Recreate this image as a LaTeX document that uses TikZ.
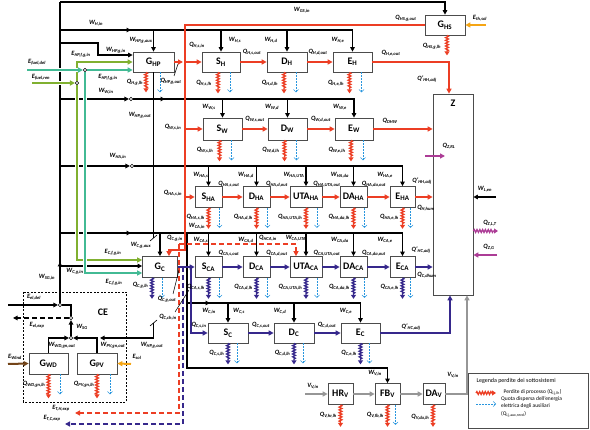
\documentclass[tikz,border=0pt]{standalone}
\usepackage{fontspec}
\setmainfont{Carlito}
\usetikzlibrary{arrows.meta,decorations.pathmorphing}
\definecolor{heatred}{RGB}{236,62,36}
\definecolor{coolblue}{RGB}{54,40,140}
\definecolor{fuelteal}{RGB}{66,186,148}
\definecolor{fuellime}{RGB}{128,176,48}
\definecolor{auxblue}{RGB}{40,150,222}
\definecolor{zonemag}{RGB}{172,60,150}
\definecolor{solorange}{RGB}{245,165,20}
\definecolor{windbrown}{RGB}{115,68,24}
\definecolor{ventgray}{RGB}{150,150,150}
\newcommand{\qs}[2]{#1\textsubscript{#2}}

\begin{document}
\begin{tikzpicture}[x=1pt, y=-1pt,
    box/.style={draw=black!70, fill=white, line width=0.7pt, minimum height=20pt, inner sep=0pt, font=\fontsize{10}{10}\selectfont\bfseries},
    lbl/.style={font=\fontsize{6.5}{6.5}\selectfont\bfseries\itshape, inner sep=0.5pt},
    jct/.style={circle, draw=black, fill=white, line width=0.6pt, inner sep=0pt, minimum size=3.5pt},
    wire/.style={line width=1.4pt},
    wtip/.style={-{Triangle[length=4.5pt,width=4.5pt]}},
    heat/.style={heatred, line width=2pt, -{Triangle[length=5pt,width=5pt]}},
    cool/.style={coolblue, line width=2pt, -{Triangle[length=5pt,width=5pt]}},
    vent/.style={ventgray, line width=2pt, -{Triangle[length=5pt,width=5pt]}},
    fuelL/.style={fuellime, line width=2pt, preaction={draw=white, line width=4.5pt, arrows=-}, -{Triangle[length=5pt,width=5pt]}},
    fuelT/.style={fuelteal, line width=2pt, preaction={draw=white, line width=4.5pt, arrows=-}, -{Triangle[length=5pt,width=5pt]}},
    lossH/.style={heatred, line width=1.3pt, decorate, decoration={snake, amplitude=1.4pt, segment length=2.8pt, post length=4pt}, -{Triangle[length=4pt,width=5pt]}},
    lossC/.style={lossH, coolblue},
    aux/.style={auxblue, line width=0.5pt, dash pattern=on 2pt off 1pt, -{Straight Barb[length=2.5pt,width=5pt]}},
    expd/.style={dash pattern=on 5pt off 3pt}
]
\useasboundingbox (0,0) rectangle (590,430);

% bus levels
\coordinate (bH) at (0,30);
\coordinate (bW) at (0,99);
\coordinate (bHA) at (0,166);
\coordinate (bCA) at (0,233);
\coordinate (bC) at (0,303);

% ---- boxes ----
\node[box, minimum width=41pt] (ghp) at (153.5,62) {\qs{G}{HP}};
\node[box, minimum width=40pt] (ghs) at (445,25) {\qs{G}{HS}};
\node[box, minimum width=38pt] (sh) at (221,62) {\qs{S}{H}};
\node[box, minimum width=40pt] (dh) at (287,62) {\qs{D}{H}};
\node[box, minimum width=39pt] (eh) at (352.5,62) {\qs{E}{H}};
\node[box, minimum width=40pt, minimum height=201pt] (z) at (453,194.5) {};
\node[font=\fontsize{10}{10}\selectfont\bfseries] (zt) at (453,103) {Z};

\node[box, minimum width=39pt, minimum height=22pt] (sw) at (222.5,129) {\qs{S}{W}};
\node[box, minimum width=39pt, minimum height=22pt] (dw) at (287.5,129) {\qs{D}{W}};
\node[box, minimum width=38pt, minimum height=22pt] (ew) at (354,129) {\qs{E}{W}};

\node[box, minimum width=27pt, minimum height=21pt] (sha) at (208.5,197) {\qs{S}{HA}};
\node[box, minimum width=27pt, minimum height=21pt] (dha) at (256.5,197) {\qs{D}{HA}};
\node[box, minimum width=32pt, minimum height=21pt] (utaha) at (306,197) {\qs{UTA}{HA}};
\node[box, minimum width=27pt, minimum height=21pt] (daha) at (353.5,197) {\qs{DA}{HA}};
\node[box, minimum width=25pt, minimum height=21pt] (eha) at (402.5,197) {\qs{E}{HA}};

\node[box, minimum width=35pt, minimum height=21pt] (gc) at (160,267) {\qs{G}{C}};
\node[box, minimum width=27pt, minimum height=21pt] (sca) at (208.5,267) {\qs{S}{CA}};
\node[box, minimum width=27pt, minimum height=21pt] (dca) at (256.5,267) {\qs{D}{CA}};
\node[box, minimum width=32pt, minimum height=21pt] (utaca) at (306,267) {\qs{UTA}{CA}};
\node[box, minimum width=27pt, minimum height=21pt] (daca) at (353.5,267) {\qs{DA}{CA}};
\node[box, minimum width=25pt, minimum height=21pt] (eca) at (402.5,267) {\qs{E}{CA}};

\node[box, minimum width=40pt] (sc) at (228,333) {\qs{S}{C}};
\node[box, minimum width=40pt] (dc) at (294,333) {\qs{D}{C}};
\node[box, minimum width=39pt] (ec) at (360.5,333) {\qs{E}{C}};

\node[box, minimum width=25pt, minimum height=21pt] (hrv) at (340.5,394) {\qs{HR}{V}};
\node[box, minimum width=25pt, minimum height=21pt] (fbv) at (387.5,394) {\qs{FB}{V}};
\node[box, minimum width=22pt, minimum height=21pt] (dav) at (434,394) {\qs{DA}{V}};

% CE
\draw[line width=0.5pt, dash pattern=on 2pt off 1.5pt] (23,292) rectangle (126,402);
\node[font=\fontsize{10}{10}\selectfont\bfseries] (ce) at (103,312) {CE};
\node[box, minimum width=39pt, minimum height=21pt] (gwd) at (48.5,363.5) {\qs{G}{WD}};
\node[box, minimum width=40pt, minimum height=21pt] (gpv) at (97,363.5) {\qs{G}{PV}};

% junctions
\node[jct] (jw) at (131,99) {};
\node[jct] (jha) at (132,166) {};
\node[jct] (jfd) at (85,70) {};
\node[jct] (jfr) at (77,83) {};
\node[jct] (jdel) at (60,305) {};
\node[jct] (jexp) at (71,318) {};
\node[jct] (jsg) at (71,338) {};

% ---- electric lines ----
\draw[wire, wtip] (60,2) -| (ghs.north);
\draw[wire] (60,2) -- (jdel);
\draw[wire, wtip] (60,290) -- (60,262);
\draw[wire, wtip] (60,30) -- (131,30);
\draw[wire, wtip] (129,30) -| (eh.north);
\draw[wire, wtip] (ghp.north |- bH) -- (ghp.north);
\draw[wire, wtip] (sh.north |- bH) -- (sh.north);
\draw[wire, wtip] (dh.north |- bH) -- (dh.north);
\draw[wire, wtip] (60,43) -| (98,55) -- (ghp.west |- 98,55);

\draw[wire, wtip] (60,99) -- (jw);
\draw[wire, wtip] (jw) -- (165,99);
\draw[wire, wtip] (163,99) -| (ew.north);
\draw[wire, wtip] (sw.north |- bW) -- (sw.north);
\draw[wire, wtip] (dw.north |- bW) -- (dw.north);

\draw[wire, wtip] (60,166) -- (jha);
\draw[wire, wtip] (jha) -| (eha.north);
\draw[wire, wtip] (sha.north |- bHA) -- (sha.north);
\draw[wire, wtip] (dha.north |- bHA) -- (dha.north);
\draw[wire, wtip] (utaha.north |- bHA) -- (utaha.north);
\draw[wire, wtip] (daha.north |- bHA) -- (daha.north);

\draw[wire, wtip] (60,233) -- (131,233);
\draw[wire, wtip] (129,233) -| (eca.north);
\draw[wire, wtip] (gc.north |- bCA) -- (gc.north);
\draw[wire, wtip] (sca.north |- bCA) -- (sca.north);
\draw[wire, wtip] (dca.north |- bCA) -- (dca.north);
\draw[wire, wtip] (utaca.north |- bCA) -- (utaca.north);
\draw[wire, wtip] (daca.north |- bCA) -- (daca.north);
\draw[wire, wtip] (60,266) -- (gc.west |- 60,266);

\draw[wire, wtip] (187,233) -- (187,368) -| (fbv.north);
\draw[wire, wtip] (187,303) -- (210,303);
\draw[wire, wtip] (208,303) -| (ec.north);
\draw[wire, wtip] (sc.north |- bC) -- (sc.north);
\draw[wire, wtip] (dc.north |- bC) -- (dc.north);

\draw[wire] (ghp.south) -- (ghp.south |- 0,238);
\draw[line width=0.6pt] (150,241) -- (157,235);
\draw[line width=0.6pt] (150,326) -- (157,320);
\draw[wire, wtip] (ghp.south |- 0,323) |- (100,338);

\draw[wire, wtip] (8,305) -- (jdel);
\draw[wire] (jdel) -| (jexp);
\draw[wire, expd, wtip] (jexp) -- (13,318);
\draw[wire, wtip] (jsg) -- (jexp);
\draw[wire, wtip] (gwd.north) |- (jsg);
\draw[wire, wtip] (gpv.north) |- (jsg);

% ---- fuel lines ----
\draw[fuelL] (32,83) -- (jfr);
\draw[fuelL] (jfr.north) |- (ghp.west |- 77,62);
\draw[fuelL] (jfr.south) |- (gc.west |- 77,260);
\draw[fuelT] (27,70) -- (jfd);
\draw[fuelT] (jfd) -- (ghp.west |- jfd);
\draw[fuelT] (jfd.south) |- (gc.west |- 85,273);

% ---- heating ----
\draw[heat] (ghs.west) -| (185,250) -| (gc.north -| 169,0);
\draw[heat] (ghp.east) -- (183,62);
\draw[heat] (185,62) -- (sh.west);
\draw[heat] (sh) -- (dh);
\draw[heat] (dh) -- (eh);
\draw[heat] (eh.east) -| (z.north -| 449,0);
\draw[heat] (185,129) -- (sw.west);
\draw[heat] (sw) -- (dw);
\draw[heat] (dw) -- (ew);
\draw[heat] (ew.east) -- (z.west |- ew.east);
\draw[heat] (185,197) -- (sha.west);
\draw[heat] (sha) -- (dha);
\draw[heat] (dha) -- (utaha);
\draw[heat] (utaha) -- (daha);
\draw[heat] (daha) -- (eha);
\draw[heat] (eha.east) -- (z.west |- eha.east);
\draw[heat, expd] (179,244) -| (utaca.north -| 296,0);
\draw[heat, expd] (179,244) |- (75,413);

% ---- cooling ----
\draw[cool] (gc) -- (sca);
\draw[cool] (191,267) |- (sc.west);
\draw[cool, expd] (183,267) |- (65,424);
\draw[cool] (sca) -- (dca);
\draw[cool] (dca) -- (utaca);
\draw[cool] (utaca) -- (daca);
\draw[cool] (daca) -- (eca);
\draw[cool] (eca.east) -- (z.west |- eca.east);
\draw[cool] (sc) -- (dc);
\draw[cool] (dc) -- (ec);
\draw[cool] (ec.east) -| (z.south -| 450,0);

% ---- ventilation ----
\draw[vent] (305,394) -- (hrv);
\draw[vent] (hrv) -- (fbv);
\draw[vent] (fbv) -- (dav);
\draw[vent] (dav.east) -| (z.south -| 467,0);

% ---- zone ----
\draw[zonemag, line width=2pt, -{Triangle[length=5pt,width=5pt]}] (425,156) -- (445,156);
\draw[lossH, zonemag] (z.east |- 0,231) -- (498,231);
\draw[zonemag, line width=2pt, -{Triangle[length=5pt,width=5pt]}] (497,255) -- (z.east |- 0,255);
\draw[wire, wtip] (496,197) -- (z.east |- 0,197);

% ---- renewables ----
\draw[solorange, line width=2pt, -{Triangle[length=5pt,width=5pt]}] (486,25) -- (ghs.east);
\draw[solorange, line width=2pt, -{Triangle[length=5pt,width=5pt]}] (131,364) -- (gpv.east);
\draw[windbrown, line width=2pt, -{Triangle[length=5pt,width=5pt]}] (8,364) -- (gwd.west);

% ---- losses ----
\draw[lossH] ([xshift=-7.5pt]ghp.south) -- ++(0,20);
\draw[aux] ([xshift=6.5pt]ghp.south) -- ++(0,20);
\draw[lossH] ([xshift=2pt]ghs.south) -- ++(0,20);
\draw[lossH] ([xshift=-3pt]sh.south) -- ++(0,21);
\draw[aux] ([xshift=9pt]sh.south) -- ++(0,20);
\draw[lossH] ([xshift=-3pt]dh.south) -- ++(0,21);
\draw[aux] ([xshift=9pt]dh.south) -- ++(0,20);
\draw[lossH] ([xshift=-3pt]eh.south) -- ++(0,21);
\draw[aux] ([xshift=9pt]eh.south) -- ++(0,20);
\draw[lossH] ([xshift=-3pt]sw.south) -- ++(0,21);
\draw[aux] ([xshift=9pt]sw.south) -- ++(0,20);
\draw[lossH] ([xshift=-3pt]dw.south) -- ++(0,21);
\draw[aux] ([xshift=9pt]dw.south) -- ++(0,20);
\draw[lossH] ([xshift=-3pt]ew.south) -- ++(0,21);
\draw[aux] ([xshift=9pt]ew.south) -- ++(0,20);
\draw[lossH] (sha.south) -- ++(0,21);
\draw[aux] ([xshift=11pt]sha.south) -- ++(0,20);
\draw[lossH] (dha.south) -- ++(0,21);
\draw[aux] ([xshift=11pt]dha.south) -- ++(0,20);
\draw[lossH] (utaha.south) -- ++(0,21);
\draw[aux] ([xshift=11pt]utaha.south) -- ++(0,20);
\draw[lossH] (daha.south) -- ++(0,21);
\draw[aux] ([xshift=11pt]daha.south) -- ++(0,20);
\draw[lossH] (eha.south) -- ++(0,21);
\draw[aux] ([xshift=8pt]eha.south) -- ++(0,20);
\draw[lossC] ([xshift=-8pt]gc.south) -- ++(0,21);
\draw[aux] ([xshift=2pt]gc.south) -- ++(0,20);
\draw[lossC] (sca.south) -- ++(0,21);
\draw[aux] ([xshift=11pt]sca.south) -- ++(0,20);
\draw[lossC] (dca.south) -- ++(0,21);
\draw[aux] ([xshift=11pt]dca.south) -- ++(0,20);
\draw[lossC] (utaca.south) -- ++(0,21);
\draw[aux] ([xshift=11pt]utaca.south) -- ++(0,20);
\draw[lossC] (daca.south) -- ++(0,21);
\draw[aux] ([xshift=11pt]daca.south) -- ++(0,20);
\draw[lossC] (eca.south) -- ++(0,21);
\draw[aux] ([xshift=8pt]eca.south) -- ++(0,20);
\draw[lossC] (sc.south) -- ++(0,21);
\draw[aux] ([xshift=9pt]sc.south) -- ++(0,20);
\draw[lossC] (dc.south) -- ++(0,21);
\draw[aux] ([xshift=9pt]dc.south) -- ++(0,20);
\draw[lossC] (ec.south) -- ++(0,21);
\draw[aux] ([xshift=9pt]ec.south) -- ++(0,20);
\draw[lossH] (hrv.south) -- ++(0,22);
\draw[lossH] (fbv.south) -- ++(0,22);
\draw[aux] ([xshift=8pt]fbv.south) -- ++(0,20);
\draw[lossH] ([xshift=-1pt]dav.south) -- ++(0,22);
\draw[lossH] (gwd.south) -- ++(0,24);
\draw[aux] ([xshift=11.5pt]gwd.south) -- ++(0,20);
\draw[lossH] (gpv.south) -- ++(0,24);
\draw[aux] ([xshift=13pt]gpv.south) -- ++(0,20);

% leader lines
\draw[line width=0.5pt] (174,76) -- (178,64);
\draw[line width=0.5pt] (173,294) -- (179,270);
\draw[line width=0.5pt] (175,312) -- (189,290);

% ---- labels ----
\node[lbl] (tWgs) at (302,10) {\qs{W}{GS,in}};
\node[lbl] (tWh) at (96,23) {\qs{W}{H,in}};
\node[lbl] (tWhpa) at (141,40) {\qs{W}{HP,g,aux}};
\node[lbl] (tWhpi) at (116,50) {\qs{W}{HP,g,in}};
\node[lbl] (tEhpl) at (81,54) {\qs{E}{HP,f,g,in}};
\node[lbl] (tEfd) at (37,62) {\qs{E}{fuel,del}};
\node[lbl] (tEfr) at (41,77) {\qs{E}{fuel,ren}};
\node[lbl] (tEhpt) at (108,77) {\qs{E}{HP,f,g,in}};
\node[lbl] (tQhg) at (135,82) {\qs{Q}{H,g,lh}};
\node[lbl] (tQhpo) at (171,81) {\qs{Q}{HP,g,out}};
\node[lbl] (tQhsi) at (197,45) {\qs{Q}{H,s,in}};
\node[lbl] (tWhs) at (235,40) {\qs{W}{H,s}};
\node[lbl] (tWhd) at (271,40) {\qs{W}{H,d}};
\node[lbl] (tWhe) at (338,40) {\qs{W}{H,e}};
\node[lbl] (tQhso) at (252,52) {\qs{Q}{H,s,out}};
\node[lbl] (tQhdo) at (318,52) {\qs{Q}{H,d,out}};
\node[lbl] (tQheo) at (391,53) {\qs{Q}{H,e,out}};
\node[lbl] (tQhsl) at (204,83) {\qs{Q}{H,s,lh}};
\node[lbl] (tQhdl) at (270,83) {\qs{Q}{H,d,lh}};
\node[lbl] (tQhel) at (336,83) {\qs{Q}{H,e,lh}};
\node[lbl] (tQhgo) at (406,18) {\qs{Q}{HS,g,out}};
\node[lbl] (tQhgl) at (432,46) {\qs{Q}{HS,g,lh}};
\node[lbl] (tEths) at (480,18) {\qs{E}{th,sol}};
\node[lbl] (tQhha) at (427,79) {Q'\textsubscript{HH,adj}};

\node[lbl] (tWw) at (106,91) {\qs{W}{W,in}};
\node[lbl] (tWhpo) at (140,115) {\qs{W}{HP,g,out}};
\node[lbl] (tQwsi) at (173,127) {\qs{Q}{W,s,in}};
\node[lbl] (tWws) at (209,107) {\qs{W}{W,s}};
\node[lbl] (tWwd) at (272,107) {\qs{W}{W,d}};
\node[lbl] (tWwe) at (340,107) {\qs{W}{W,e}};
\node[lbl] (tQwso) at (255,119) {\qs{Q}{W,s,out}};
\node[lbl] (tQwdo) at (321,119) {\qs{Q}{W,d,out}};
\node[lbl] (tQdhw) at (390,121) {\qs{Q}{DHW}};
\node[lbl] (tQwsl) at (205,150) {\qs{Q}{W,s,lh}};
\node[lbl] (tQwdl) at (271,150) {\qs{Q}{W,d,lh}};
\node[lbl] (tQwel) at (337,150) {\qs{Q}{W,e,lh}};
\node[lbl] (tQzrl) at (449,146) {\qs{Q}{Z,RL}};

\node[lbl] (tWha) at (118,156) {\qs{W}{HA,in}};
\node[lbl] (tQhasi) at (173,193) {\qs{Q}{HA,s,in}};
\node[lbl] (tWhas) at (201,175) {\qs{W}{HA,s}};
\node[lbl] (tWhad) at (246,175) {\qs{W}{HA,d}};
\node[lbl] (tWhau) at (294,175) {\qs{W}{HA,UTA}};
\node[lbl] (tWhada) at (340,175) {\qs{W}{HA,da}};
\node[lbl] (tWhae) at (385,175) {\qs{W}{HA,e}};
\node[lbl] (tQhaso) at (229,184) {\qs{Q}{HA,s,out}};
\node[lbl] (tQhado) at (277,184) {\qs{Q}{HA,d,out}};
\node[lbl] (tQhauo) at (327,184) {\qs{Q}{HA,UTA,out}};
\node[lbl] (tQhadao) at (374,184) {\qs{Q}{HA,da,out}};
\node[lbl, anchor=east] (tQhasl) at (205.5,217) {\qs{Q}{HA,s,lh}};
\node[lbl, anchor=east] (tQhadl) at (253.5,217) {\qs{Q}{HA,d,lh}};
\node[lbl, anchor=east] (tQhaul) at (303,217) {\qs{Q}{HA,UTA,lh}};
\node[lbl, anchor=east] (tQhadal) at (350.5,217) {\qs{Q}{HA,da,lh}};
\node[lbl, anchor=east] (tQhael) at (399.5,217) {\qs{Q}{HA,e,lh}};
\node[lbl] (tQhhum) at (426,208) {\qs{Q}{H,hum}};
\node[lbl] (tQhha2) at (422,181) {Q'\textsubscript{HH,adj}};

\node[lbl] (tWca) at (197,226) {\qs{W}{CA,in}};
\node[lbl] (tWcga) at (141,245) {\qs{W}{C,g,aux}};
\node[lbl] (tQcgi) at (175,238) {\qs{Q}{C,g,in}};
\node[lbl] (tWcas) at (201,240) {\qs{W}{CA,s}};
\node[lbl] (tWcad) at (246,240) {\qs{W}{CA,d}};
\node[lbl] (tQhcai) at (268,238) {\qs{Q}{HCA,in}};
\node[lbl] (tWcau) at (296,238) {\qs{W}{CA,UTA}};
\node[lbl] (tWcada) at (340,240) {\qs{W}{CA,da}};
\node[lbl] (tWcae) at (385,240) {\qs{W}{CA,e}};
\node[lbl] (tQcaso) at (229,253) {\qs{Q}{CA,s,out}};
\node[lbl] (tQcado) at (277,253) {\qs{Q}{CA,d,out}};
\node[lbl] (tQcauo) at (327,253) {\qs{Q}{CA,UTA,out}};
\node[lbl] (tQcadao) at (374,253) {\qs{Q}{CA,da,out}};
\node[lbl, anchor=east] (tQcasl) at (205.5,287) {\qs{Q}{CA,s,lh}};
\node[lbl, anchor=east] (tQcadl) at (253.5,287) {\qs{Q}{CA,d,lh}};
\node[lbl, anchor=east] (tQcaul) at (303,287) {\qs{Q}{CA,UTA,lh}};
\node[lbl, anchor=east] (tQcadal) at (350.5,287) {\qs{Q}{CA,da,lh}};
\node[lbl, anchor=east] (tQcael) at (399.5,287) {\qs{Q}{CA,e,lh}};
\node[lbl] (tQhca) at (421,250) {Q'\textsubscript{HC,adj}};
\node[lbl] (tQcdh) at (427,275) {\qs{Q}{C,dhum}};
\node[lbl] (tEcl) at (113,252) {\qs{E}{C,f,g,in}};
\node[lbl] (tEct) at (114,282) {\qs{E}{C,f,g,in}};
\node[lbl] (tWcgi) at (75,271) {\qs{W}{C,g,in}};
\node[lbl] (tWsgi) at (47,277) {\qs{W}{SG,in}};
\node[lbl, anchor=east] (tQcgl) at (149,285) {\qs{Q}{C,g,lh}};
\node[lbl] (tQcgo) at (167,299) {\qs{Q}{C,g,out}};
\node[lbl] (tQcchi) at (168,317) {\qs{Q}{C,ch,in}};

\node[lbl] (tWc) at (209,311) {\qs{W}{C,in}};
\node[lbl] (tWcs) at (239,311) {\qs{W}{C,s}};
\node[lbl] (tWcd) at (280,311) {\qs{W}{C,d}};
\node[lbl] (tWce) at (346,311) {\qs{W}{C,e}};
\node[lbl] (tQcsi) at (199,325) {\qs{Q}{C,s,in}};
\node[lbl] (tQcso) at (261,325) {\qs{Q}{C,s,out}};
\node[lbl] (tQcdo) at (327,325) {\qs{Q}{C,d,out}};
\node[lbl, anchor=east] (tQcsl) at (225,353) {\qs{Q}{C,s,lh}};
\node[lbl, anchor=east] (tQcdl) at (291,353) {\qs{Q}{C,d,lh}};
\node[lbl, anchor=east] (tQcel) at (357.5,353) {\qs{Q}{C,e,lh}};
\node[lbl] (tQhca2) at (411,327) {Q'\textsubscript{HC,adj}};
\node[lbl] (tWv) at (375,373) {\qs{W}{V,in}};

\node[lbl] (tVv) at (313,386) {\qs{V}{V,in}};
\node[lbl] (tVv2) at (453,375) {\qs{V}{V,in}};
\node[lbl, anchor=east] (tQvhr) at (337.5,415) {\qs{Q}{V,hr,lh}};
\node[lbl, anchor=east] (tQvfb) at (384.5,415) {\qs{Q}{V,fb,lh}};
\node[lbl, anchor=east] (tQvda) at (430,417) {\qs{Q}{V,da,lh}};

\node[lbl] (tWlen) at (485,189) {\qs{W}{L,en}};
\node[lbl] (tQzlt) at (490,223) {\qs{Q}{Z,L,T}};
\node[lbl] (tQzg) at (489,247) {\qs{Q}{Z,G}};

\node[lbl] (tEeld) at (34,297) {\qs{E}{el,del}};
\node[lbl] (tEele) at (37,325) {\qs{E}{el,exp}};
\node[lbl] (tWsg) at (82,327) {\qs{W}{SG}};
\node[lbl] (tWwdo) at (62,345) {\qs{W}{WD,gn,out}};
\node[lbl] (tWpvo) at (113,345) {\qs{W}{PV,gn,out}};
\node[lbl] (tWhpo2) at (152,345) {\qs{W}{HP,g,out}};
\node[lbl] (tEwind) at (15,357) {\qs{E}{Wind}};
\node[lbl] (tEsol) at (137,357) {\qs{E}{sol}};
\node[lbl, anchor=east] (tQwdl) at (46,384) {\qs{Q}{WD,gn,lh}};
\node[lbl, anchor=east] (tQpvl) at (95,384) {\qs{Q}{PV,gn,lh}};
\node[lbl] (tEthx) at (61,408) {\qs{E}{T,H,exp}};
\node[lbl] (tEtcx) at (52,418) {\qs{E}{T,C,exp}};

% ---- legend ----
\draw[draw=black!70, line width=0.8pt] (468,373) rectangle (588,428);
\node[anchor=west, font=\fontsize{6}{7}\selectfont] (legt) at (473,381) {Legenda perdite dei sottosistemi};
\draw[lossH] (476,393) -- (496,393);
\draw[aux] (476,404) -- (496,404);
\node[anchor=west, font=\fontsize{5.5}{7}\selectfont] (legp) at (500,392) {Perdite di processo (Q\textsubscript{i,j,lh})};
\node[anchor=north west, align=left, font=\fontsize{5.5}{7.5}\selectfont, inner sep=0pt] (lega) at (501,396) {Quota dispersa dell'energia\\elettrica degli ausiliari\\(Q\textsubscript{i,j,aux,nrvd})};
\end{tikzpicture}
\end{document}
